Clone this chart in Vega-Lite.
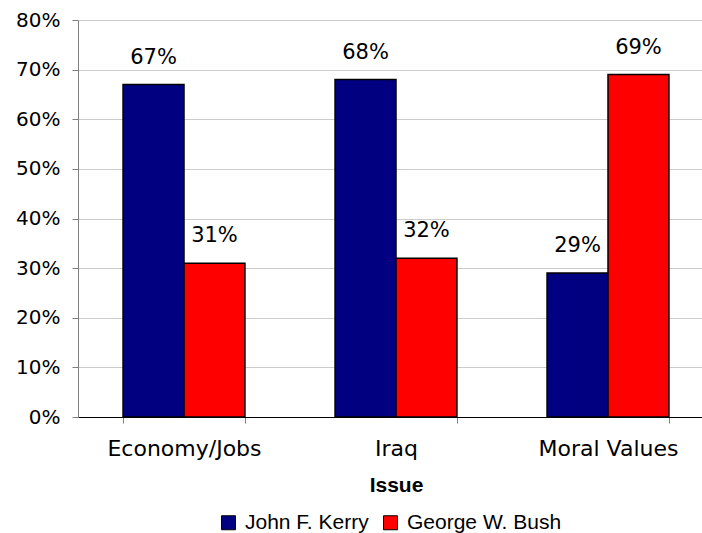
{
  "$schema": "https://vega.github.io/schema/vega-lite/v6.json",
  "width": 624,
  "height": 397,
  "autosize": {"type": "none"},
  "padding": {"left": 78, "top": 20, "right": 0, "bottom": 116},
  "background": "white",
  "data": {
    "values": [
      {"Issue": "Economy/Jobs", "Candidate": "John F. Kerry", "Share": 0.67},
      {"Issue": "Economy/Jobs", "Candidate": "George W. Bush", "Share": 0.31},
      {"Issue": "Iraq", "Candidate": "John F. Kerry", "Share": 0.68},
      {"Issue": "Iraq", "Candidate": "George W. Bush", "Share": 0.32},
      {"Issue": "Moral Values", "Candidate": "John F. Kerry", "Share": 0.29},
      {"Issue": "Moral Values", "Candidate": "George W. Bush", "Share": 0.69}
    ]
  },
  "config": {
    "view": {"stroke": null},
    "axis": {"labelFont": "DejaVu Sans", "labelColor": "black", "titleFont": "Liberation Sans"}
  },
  "encoding": {
    "x": {
      "field": "Issue",
      "type": "nominal",
      "sort": ["Economy/Jobs", "Iraq", "Moral Values"],
      "scale": {"range": [0, 636], "paddingInner": 0.425, "paddingOuter": 0.2125},
      "axis": {
        "title": "Issue",
        "titleFontSize": 21,
        "titleFontWeight": "bold",
        "titleColor": "black",
        "titleX": 318,
        "titleY": 74,
        "titleBaseline": "alphabetic",
        "titleAlign": "center",
        "labelAngle": 0,
        "labelFontSize": 22,
        "labelBaseline": "alphabetic",
        "labelPadding": 32,
        "tickBand": "extent",
        "tickSize": 6,
        "tickColor": "#808080",
        "domainColor": "black",
        "domainWidth": 1
      }
    },
    "xOffset": {
      "field": "Candidate",
      "type": "nominal",
      "sort": ["John F. Kerry", "George W. Bush"],
      "scale": {"paddingInner": 0, "paddingOuter": 0}
    },
    "y": {
      "field": "Share",
      "type": "quantitative",
      "scale": {"domain": [0, 0.8], "nice": false},
      "axis": {
        "title": null,
        "format": ".0%",
        "values": [0, 0.1, 0.2, 0.3, 0.4, 0.5, 0.6, 0.7, 0.8],
        "labelFontSize": 20,
        "labelPadding": 12,
        "tickSize": 6,
        "tickColor": "#808080",
        "domainColor": "#808080",
        "gridColor": "#cccccc",
        "gridWidth": 1
      }
    }
  },
  "layer": [
    {
      "mark": {"type": "bar", "stroke": "black", "strokeWidth": 1.5},
      "encoding": {
        "color": {
          "field": "Candidate",
          "type": "nominal",
          "sort": ["John F. Kerry", "George W. Bush"],
          "scale": {"domain": ["John F. Kerry", "George W. Bush"], "range": ["#000080", "#ff0000"]},
          "legend": {
            "title": null,
            "orient": "none",
            "direction": "horizontal",
            "legendX": 140,
            "legendY": 492,
            "symbolType": "square",
            "symbolSize": 196,
            "symbolStrokeColor": "black",
            "symbolStrokeWidth": 1,
            "symbolOpacity": 1,
            "labelFont": "Liberation Sans",
            "labelFontSize": 21,
            "labelColor": "black",
            "labelOffset": 6,
            "columnPadding": 11
          }
        }
      }
    },
    {
      "mark": {"type": "text", "font": "DejaVu Sans", "fontSize": 21, "color": "black", "baseline": "alphabetic", "dy": -21},
      "encoding": {
        "text": {"field": "Share", "type": "quantitative", "format": ".0%"}
      }
    }
  ]
}
